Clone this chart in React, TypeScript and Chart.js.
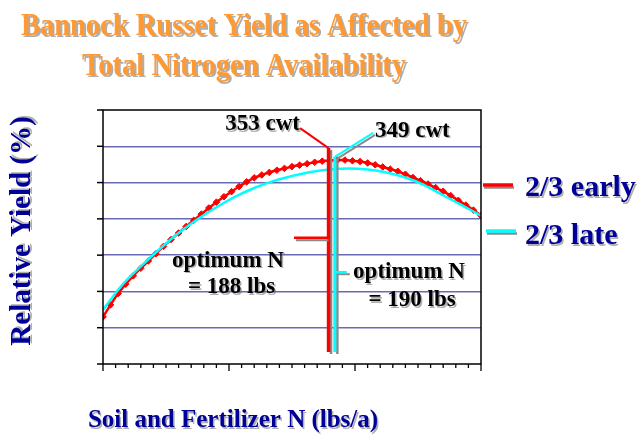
import React, { useEffect, useRef } from 'react';
import { Chart, registerables } from 'chart.js';
Chart.register(...registerables);

const TITLE_LINES = ['Bannock Russet Yield as Affected by', 'Total Nitrogen Availability'];
const X_TITLE = 'Soil and Fertilizer N (lbs/a)';
const Y_TITLE = 'Relative Yield (%)';
const SERIES_LABELS = ['2/3 early', '2/3 late'];
const SERIES_COLORS = ['#ff0000', '#00ffff'];

const X_MIN = 0;
const X_MAX = 300;
const X_MINOR_STEP = 10;
const X_MAJOR_STEP = 100;
const Y_MIN = 0;
const Y_MAX = 70;
const Y_STEP = 10;

const EARLY_N = [0, 6, 12, 18, 24, 30, 36, 42, 48, 54, 60, 66, 72, 78, 84, 90, 96, 102, 108, 114, 120, 126, 132, 138, 144, 150, 156, 162, 168, 174, 180, 186, 192, 198, 204, 210, 216, 222, 228, 234, 240, 246, 252, 258, 264, 270, 276, 282, 288, 294, 300];
const EARLY_YIELD = [13.0, 16.3, 19.4, 22.0, 24.3, 26.4, 28.4, 30.4, 32.4, 34.3, 36.1, 37.9, 39.6, 41.3, 43.0, 44.6, 46.1, 47.5, 48.9, 50.2, 51.3, 52.1, 52.8, 53.4, 53.9, 54.4, 54.8, 55.2, 55.6, 55.9, 56.1, 56.2, 56.2, 56.0, 55.8, 55.4, 54.9, 54.3, 53.7, 53.1, 52.3, 51.4, 50.5, 49.6, 48.6, 47.6, 46.4, 45.1, 43.8, 42.4, 40.9];
const LATE_N = [0, 15, 30, 45, 60, 75, 90, 105, 120, 135, 150, 165, 180, 195, 210, 225, 240, 255, 270, 285, 300];
const LATE_YIELD = [14.9, 21.7, 26.9, 31.7, 36.1, 39.9, 43.2, 46.1, 48.5, 50.4, 51.8, 52.9, 53.6, 53.9, 53.6, 52.8, 51.4, 49.3, 46.5, 43.7, 40.9];

// optimum marker lines: [early, late]
const OPT_N = [179, 184];
const OPT_TOP = [59.5, 57.1];
const OPT_BOTTOM = [3.3, 3.3];
const YIELD_LABELS = ['353 cwt', '349 cwt'];
const OPT_LABELS = [['optimum N', '= 188 lbs'], ['optimum N', '= 190 lbs']];
// leader ends (data coords)
const EARLY_LEADER_END = [156.4, 65.0];
const LATE_LEADER_END = [214.4, 63.7];
const EARLY_HLEADER = [151.6, 34.8];
const LATE_HLEADER = [193.5, 25.3];

const SERIF = '"Liberation Serif", "Times New Roman", serif';
const NAVY = '#000099';

function shadowText(ctx: CanvasRenderingContext2D, text: string, x: number, y: number, color: string, off = 2, sh = 'rgba(110,110,110,0.55)') {
  ctx.fillStyle = sh;
  ctx.fillText(text, x + off, y + off);
  ctx.fillStyle = color;
  ctx.fillText(text, x, y);
}

function line(ctx: CanvasRenderingContext2D, x1: number, y1: number, x2: number, y2: number, color: string, w: number) {
  ctx.beginPath();
  ctx.strokeStyle = color;
  ctx.lineWidth = w;
  ctx.moveTo(x1, y1);
  ctx.lineTo(x2, y2);
  ctx.stroke();
}

const overlay = {
  id: 'overlay',
  afterDatasetsDraw(chart: any) {
    const { ctx, scales } = chart;
    const x = scales.x;
    const y = scales.y;
    ctx.save();
    ctx.lineCap = 'butt';
    const gray = '#8a8a8a';
    // early (red) optimum line
    const rx = x.getPixelForValue(OPT_N[0]);
    const rTop = y.getPixelForValue(OPT_TOP[0]);
    const rBot = y.getPixelForValue(OPT_BOTTOM[0]);
    line(ctx, rx + 2.5, rTop + 2, rx + 2.5, rBot + 2, gray, 2.5);
    line(ctx, rx, rTop, rx, rBot, SERIES_COLORS[0], 3.5);
    line(ctx, x.getPixelForValue(EARLY_LEADER_END[0]), y.getPixelForValue(EARLY_LEADER_END[1]), rx, rTop, SERIES_COLORS[0], 2);
    const hy = y.getPixelForValue(EARLY_HLEADER[1]);
    const hx = x.getPixelForValue(EARLY_HLEADER[0]);
    line(ctx, hx + 2, hy + 2.5, rx, hy + 2.5, gray, 2);
    line(ctx, hx, hy, rx, hy, SERIES_COLORS[0], 2.5);
    // late (cyan) optimum line
    const cx = x.getPixelForValue(OPT_N[1]);
    const cTop = y.getPixelForValue(OPT_TOP[1]);
    const cBot = y.getPixelForValue(OPT_BOTTOM[1]);
    line(ctx, cx + 2.5, cTop + 2, cx + 2.5, cBot + 2, gray, 2.5);
    line(ctx, cx, cTop, cx, cBot, SERIES_COLORS[1], 3);
    const lx = x.getPixelForValue(LATE_LEADER_END[0]);
    const ly = y.getPixelForValue(LATE_LEADER_END[1]);
    line(ctx, cx + 2, cTop + 2, lx + 2, ly + 2, gray, 2);
    line(ctx, cx, cTop, lx, ly, SERIES_COLORS[1], 2);
    const chy = y.getPixelForValue(LATE_HLEADER[1]);
    const chx = x.getPixelForValue(LATE_HLEADER[0]);
    line(ctx, cx + 2, chy + 2, chx + 3, chy + 2, gray, 2);
    line(ctx, cx, chy, chx, chy, SERIES_COLORS[1], 2.5);
    ctx.restore();
  },
  afterDraw(chart: any) {
    const { ctx, chartArea: a, scales } = chart;
    const x = scales.x;
    const y = scales.y;
    ctx.save();
    // frame
    ctx.strokeStyle = '#000';
    ctx.lineWidth = 1.5;
    ctx.strokeRect(a.left, a.top, a.right - a.left, a.bottom - a.top);
    // y ticks
    for (let v = Y_MIN; v <= Y_MAX; v += Y_STEP) {
      const py = y.getPixelForValue(v);
      line(ctx, a.left - 6, py, a.left, py, '#000', 1.5);
    }
    // x ticks
    for (let v = X_MIN; v <= X_MAX; v += X_MINOR_STEP) {
      const px = x.getPixelForValue(v);
      const len = v % X_MAJOR_STEP === 0 ? 7 : 4;
      line(ctx, px, a.bottom, px, a.bottom + len, '#000', 1.3);
    }

    // titles (slightly tall, as in the slide)
    ctx.textAlign = 'center';
    ctx.textBaseline = 'alphabetic';
    ctx.font = `bold 28.5px ${SERIF}`;
    const baseT = [35, 75];
    for (let i = 0; i < 2; i++) {
      ctx.save();
      ctx.translate(244, baseT[i]);
      ctx.scale(1, 1.1);
      shadowText(ctx, TITLE_LINES[i], 0, 0, '#ff9933', 2, 'rgba(120,120,120,0.6)');
      ctx.restore();
    }

    ctx.font = `bold 25px ${SERIF}`;
    shadowText(ctx, X_TITLE, 233, 427, NAVY, 1.5);

    ctx.save();
    ctx.translate(30, 231);
    ctx.rotate(-Math.PI / 2);
    ctx.font = `bold 29px ${SERIF}`;
    shadowText(ctx, Y_TITLE, 0, 0, NAVY, 1.5);
    ctx.restore();

    // legend
    const legY = [185, 231];
    const legX = [483, 486];
    const legBase = [196, 244];
    for (let i = 0; i < 2; i++) {
      line(ctx, legX[i] + 1, legY[i] + 2.5, legX[i] + 31, legY[i] + 2.5, '#8a8a8a', 2.5);
      line(ctx, legX[i], legY[i], legX[i] + 30, legY[i], SERIES_COLORS[i], 3.5);
      ctx.textAlign = 'left';
      ctx.font = `bold 30px ${SERIF}`;
      shadowText(ctx, SERIES_LABELS[i], 525, legBase[i], NAVY, 1.5);
    }

    // annotations
    ctx.font = `bold 23px ${SERIF}`;
    ctx.textAlign = 'right';
    shadowText(ctx, YIELD_LABELS[0], 300, 130, '#000', 1.5);
    ctx.textAlign = 'left';
    shadowText(ctx, YIELD_LABELS[1], 375, 136.5, '#000', 1.5);
    ctx.textAlign = 'center';
    shadowText(ctx, OPT_LABELS[0][0], 228, 266.5, '#000', 1.5);
    shadowText(ctx, OPT_LABELS[0][1], 231.5, 293, '#000', 1.5);
    shadowText(ctx, OPT_LABELS[1][0], 409, 278, '#000', 1.5);
    shadowText(ctx, OPT_LABELS[1][1], 412, 306, '#000', 1.5);
    ctx.restore();
  },
};

export default function App() {
  const ref = useRef<HTMLCanvasElement>(null);
  useEffect(() => {
    document.body.style.margin = '0';
    const early = EARLY_N.map((n, i) => ({ x: n, y: EARLY_YIELD[i] }));
    const late = LATE_N.map((n, i) => ({ x: n, y: LATE_YIELD[i] }));
    const chart = new Chart(ref.current as HTMLCanvasElement, {
      type: 'line',
      data: {
        datasets: [
          {
            label: SERIES_LABELS[0],
            data: early,
            borderColor: SERIES_COLORS[0],
            backgroundColor: SERIES_COLORS[0],
            borderWidth: 2.5,
            pointStyle: 'rectRot',
            pointRadius: 3.3,
            pointBorderWidth: 1,
            tension: 0.3,
            order: 1,
          },
          {
            label: SERIES_LABELS[1],
            data: late,
            borderColor: SERIES_COLORS[1],
            backgroundColor: SERIES_COLORS[1],
            borderWidth: 2.5,
            pointRadius: 0,
            tension: 0.4,
            cubicInterpolationMode: 'monotone',
            order: 0,
          },
        ],
      },
      options: {
        animation: false,
        responsive: true,
        maintainAspectRatio: false,
        layout: { padding: { left: 103, top: 110, right: 160, bottom: 81 } },
        plugins: { legend: { display: false }, title: { display: false }, tooltip: { enabled: false } },
        scales: {
          x: {
            type: 'linear',
            min: X_MIN,
            max: X_MAX,
            ticks: { display: false, stepSize: X_MINOR_STEP },
            grid: { display: false, drawTicks: false },
            border: { display: false },
          },
          y: {
            min: Y_MIN,
            max: Y_MAX,
            ticks: { display: false, stepSize: Y_STEP },
            grid: {
              drawTicks: false,
              lineWidth: 1.5,
              color: (c: any) => (c.tick && (c.tick.value === Y_MIN || c.tick.value === Y_MAX) ? 'rgba(0,0,0,0)' : '#6a6ab4'),
            },
            border: { display: false },
          },
        },
      },
      plugins: [overlay],
    });
    return () => chart.destroy();
  }, []);
  return (
    <div style={{ width: 641, height: 445, position: 'relative', background: '#fff' }}>
      <canvas ref={ref} />
    </div>
  );
}
